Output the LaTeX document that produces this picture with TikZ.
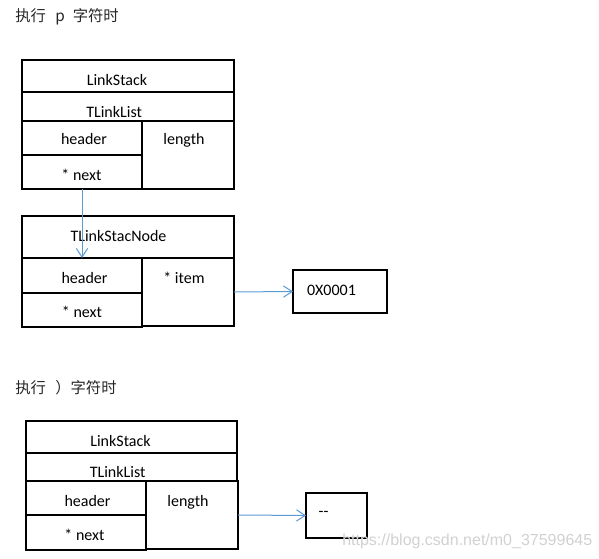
\documentclass[tikz,border=0pt]{standalone}
\usepackage{fontspec}
\setmainfont{Carlito}
\newfontfamily\cjkfont{Noto Sans CJK SC}
\newfontfamily\wmfont{Liberation Sans}
\usetikzlibrary{positioning,arrows.meta}
\definecolor{ptrblue}{RGB}{91,155,213}
\newcommand{\px}{0.75pt}
\tikzset{
  cell/.style={draw, line width=0.8pt, anchor=north west, inner sep=0pt, outer sep=0pt},
  lbl/.style={inner sep=0.75pt, text height=0.7em, text depth=0pt, yshift=-0.75pt, font=\fontsize{12}{14}\selectfont},
  title/.style={anchor=west, inner sep=0pt, text=black!85, font=\cjkfont\fontsize{11.5}{14}\selectfont},
  ptr/.style={draw=ptrblue, line width=0.75pt, -{Straight Barb[length=6.5pt,width=8.5pt,line width=0.75pt]}},
  wmark/.style={inner sep=0pt, text=black!18, font=\wmfont\fontsize{12}{14}\selectfont},
}
\begin{document}
\begin{tikzpicture}[x=0.75pt,y=0.75pt,yscale=-1,xscale=1]
        \useasboundingbox (0,0) rectangle (599,559);
        % first state
        \node[title] (titleA) at (15,17) {执行\hspace{7pt}p\hspace{6pt}字符时};
        \node[cell, minimum width=212*\px, minimum height=32*\px] (stackA) at (22,60) {};
        \node[cell, minimum width=212*\px, minimum height=29*\px] (listA) at (22,92) {};
        \node[cell, minimum width=120*\px, minimum height=34*\px] (headA) at (22,121) {};
        \node[cell, minimum width=120*\px, minimum height=34*\px] (nextA) at (22,155) {};
        \node[cell, minimum width=92*\px, minimum height=68*\px] (lenA) at (142,121) {};
        \node[lbl] (stackAtxt) at (117,80) {LinkStack};
        \node[lbl, anchor=west] (listAtxt) at (85,112) {TLinkList};
        \node[lbl] (headAtxt) at (84,139) {header};
        \node[lbl] (lenAtxt) at (184,139) {length};
        \node[lbl] (nextAtxt) at (81.5,175) {* next};
        % stack node
        \node[cell, minimum width=212*\px, minimum height=42*\px] (snode) at (22,216) {};
        \node[cell, minimum width=120*\px, minimum height=35*\px] (headB) at (22,258) {};
        \node[cell, minimum width=120*\px, minimum height=34*\px] (nextB) at (22,293) {};
        \node[cell, minimum width=92*\px, minimum height=68*\px] (itemB) at (142,258) {};
        \node[cell, minimum width=94*\px, minimum height=43*\px] (valB) at (293,270) {};
        \node[lbl] (snodetxt) at (118.5,236) {TLinkStacNode};
        \node[lbl] (headBtxt) at (84.5,278) {header};
        \node[lbl] (itemBtxt) at (184,278) {* item};
        \node[lbl] (nextBtxt) at (82,312) {* next};
        \node[lbl] (valBtxt) at (331.5,290) {0X0001};
        \draw[ptr] (nextA.south) -- (headB.north);
        \draw[ptr] (itemB.east) -- (valB.west);
        % second state
        \node[title] (titleC) at (15,388) {执行\hspace{7pt}）字符时};
        \node[cell, minimum width=211*\px, minimum height=32*\px] (stackC) at (26,421) {};
        \node[cell, minimum width=211*\px, minimum height=28*\px] (listC) at (26,453) {};
        \node[cell, minimum width=120*\px, minimum height=34*\px] (headC) at (26,481) {};
        \node[cell, minimum width=120*\px, minimum height=35*\px] (nextC) at (26,515) {};
        \node[cell, minimum width=92*\px, minimum height=68*\px] (lenC) at (146,481) {};
        \node[cell, minimum width=61*\px, minimum height=45*\px] (valC) at (306,493) {};
        \node[lbl] (stackCtxt) at (120.5,441) {LinkStack};
        \node[lbl, anchor=west] (listCtxt) at (88.5,472) {TLinkList};
        \node[lbl] (headCtxt) at (87.5,500.5) {header};
        \node[lbl] (lenCtxt) at (188,500.5) {length};
        \node[lbl] (nextCtxt) at (84.5,535) {* next};
        \node[lbl] (valCtxt) at (323.5,511) {-{}-};
        \draw[ptr] (lenC.east) -- (valC.west);
        \node[wmark, anchor=west] (wm) at (342,541) {https://blog.csdn.net/m0\_37599645};
\end{tikzpicture}
\end{document}
